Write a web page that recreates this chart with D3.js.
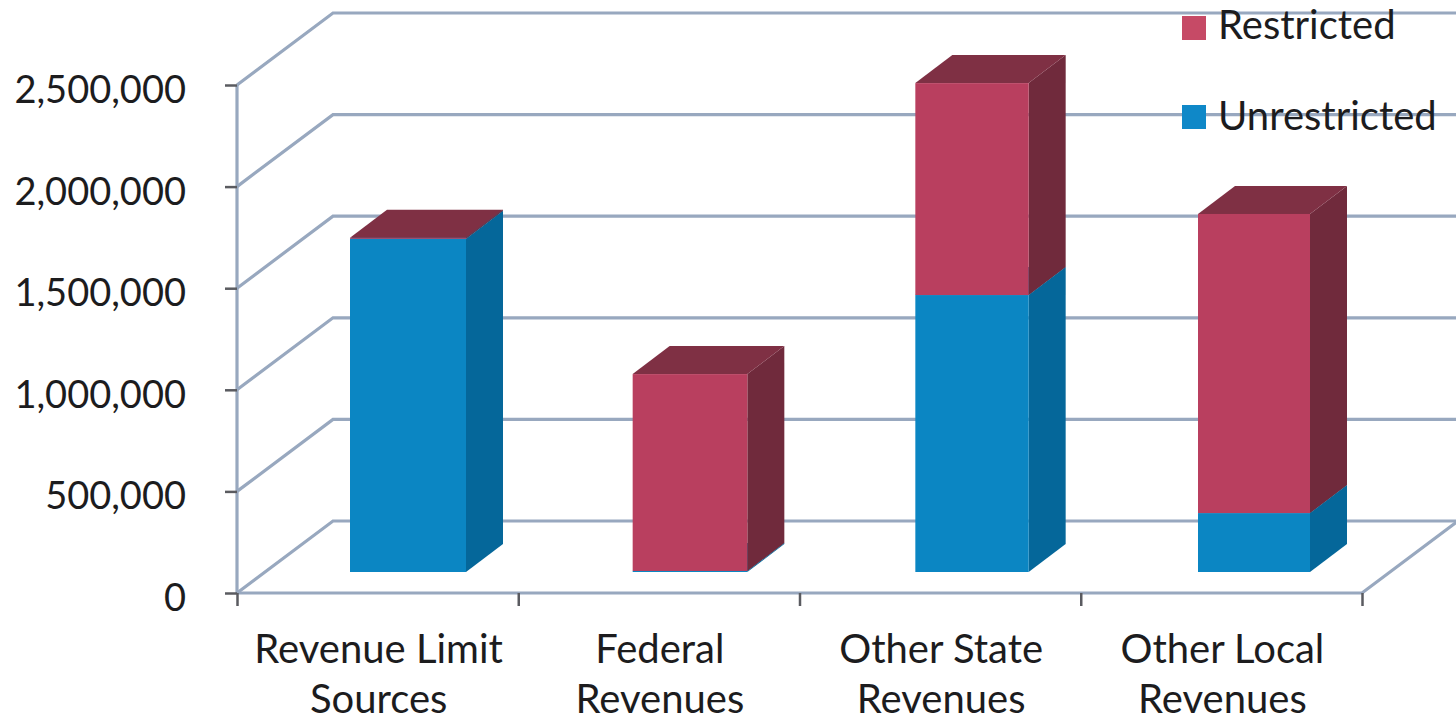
<!DOCTYPE html>
<html>
<head>
<meta charset="utf-8">
<script src="https://cdn.jsdelivr.net/npm/d3@7"></script>
<style>
html,body{margin:0;padding:0;background:#fff;overflow:hidden}
text{font-family:Lato,"Open Sans",sans-serif;fill:#1c1c1e}
</style>
</head>
<body>
<svg id="chart" width="1456" height="722"></svg>
<script>
// Revenue by source, split into unrestricted and restricted funds
const categories = [["Revenue Limit","Sources"],["Federal","Revenues"],["Other State","Revenues"],["Other Local","Revenues"]];
const unrestricted = [1640000, 5000, 1363000, 290000];
const restricted = [5000, 969000, 1043000, 1472000];
const yTicks = [0, 500000, 1000000, 1500000, 2000000, 2500000];
const seriesNames = ["Unrestricted", "Restricted"];

const palette = {
  Unrestricted: {front:"#0b86c3", side:"#05679a", top:"#05709f"},
  Restricted: {front:"#b93f5f", side:"#702a3c", top:"#7f3044"}
};
const legendFill = {Unrestricted:"#0f88c8", Restricted:"#c64a66"};

// Oblique projection: the wall recedes up and to the right
const depth = {dx:96, dy:-72};
const barLift = -21;
const barSkew = {dx:37, dy:-28};

const svg = d3.select("#chart");
const x = d3.scaleBand().domain(d3.range(categories.length)).range([237, 1362]);
const y = d3.scaleLinear().domain([0, 2500000]).range([593, 85]);
// Left and right edges of the columns' front faces
const barLeft = d3.scaleLinear().domain([0, categories.length-1]).range([350, 1198]);
const barRight = d3.scaleLinear().domain([0, categories.length-1]).range([466, 1310]);

// Wall and floor lines
const grid = svg.append("g").attr("fill","none").attr("stroke","#98a8bf").attr("stroke-width",3.2);
yTicks.forEach(t => {
  grid.append("path").attr("d", d3.line()([
    [x.range()[0], y(t)],
    [x.range()[0]+depth.dx, y(t)+depth.dy],
    [1456, y(t)+depth.dy]
  ]));
});
grid.append("path").attr("d", d3.line()([[x.range()[0], y(0)],[x.range()[1], y(0)],[x.range()[1]+depth.dx, y(0)+depth.dy]]));
grid.append("path").attr("d", d3.line()([[x.range()[0], y(2500000)],[x.range()[0], y(0)]]));

// Stacked 3D columns
const rows = categories.map((c,i)=>({i, Unrestricted:unrestricted[i], Restricted:restricted[i]}));
const stacked = d3.stack().keys(seriesNames)(rows);
const bars = svg.append("g");
stacked.forEach(layer => {
  const col = palette[layer.key];
  layer.forEach(d => {
    const i = d.data.i;
    const xl = barLeft(i);
    const xr = barRight(i);
    const yb = y(d[0]) + barLift;
    const yt = y(d[1]) + barLift;
    bars.append("path").attr("fill",col.side).attr("d", d3.line()([
      [xr,yb],[xr+barSkew.dx,yb+barSkew.dy],[xr+barSkew.dx,yt+barSkew.dy],[xr,yt]])+"Z");
    bars.append("path").attr("fill",col.top).attr("d", d3.line()([
      [xl,yt],[xr,yt],[xr+barSkew.dx,yt+barSkew.dy],[xl+barSkew.dx,yt+barSkew.dy]])+"Z");
    bars.append("rect").attr("x",xl).attr("y",yt).attr("width",xr-xl).attr("height",yb-yt).attr("fill",col.front);
  });
});

// Value axis
const yAxis = svg.append("g").attr("transform",`translate(${x.range()[0]},0)`)
  .call(d3.axisLeft(y).tickValues(yTicks).tickFormat(d3.format(",")).tickSize(12).tickPadding(39));
yAxis.select(".domain").remove();
yAxis.selectAll("line").attr("stroke","#5a5b60").attr("stroke-width",2.5);
yAxis.selectAll("text").style("font-size","38px").attr("fill","#1c1c1e").attr("dy","0.46em");

// Category axis: ticks sit on the band edges
const edges = d3.range(categories.length+1).map(i => x.range()[0] + i*x.step());
const xTickAxis = svg.append("g").attr("transform",`translate(0,${y(0)})`)
  .call(d3.axisBottom(d3.scaleLinear().domain(x.range()).range(x.range())).tickValues(edges).tickSize(13).tickFormat(""));
xTickAxis.select(".domain").remove();
xTickAxis.selectAll("line").attr("stroke","#5a5b60").attr("stroke-width",2.5);

const xLabels = svg.append("g");
categories.forEach((lines,i)=>{
  lines.forEach((t,j)=>{
    xLabels.append("text").attr("x",x(i)+x.bandwidth()/2+1).attr("y",663+j*50)
      .attr("text-anchor","middle").style("font-size","40px").text(t);
  });
});

// Legend
const legendRows = [["Restricted",16,39],["Unrestricted",105,130]];
legendRows.forEach(([name,top,base])=>{
  svg.append("rect").attr("x",1182).attr("y",top).attr("width",24).attr("height",24).attr("fill",legendFill[name]);
  svg.append("text").attr("x",1218).attr("y",base).style("font-size","40px").text(name);
});
</script>
</body>
</html>
